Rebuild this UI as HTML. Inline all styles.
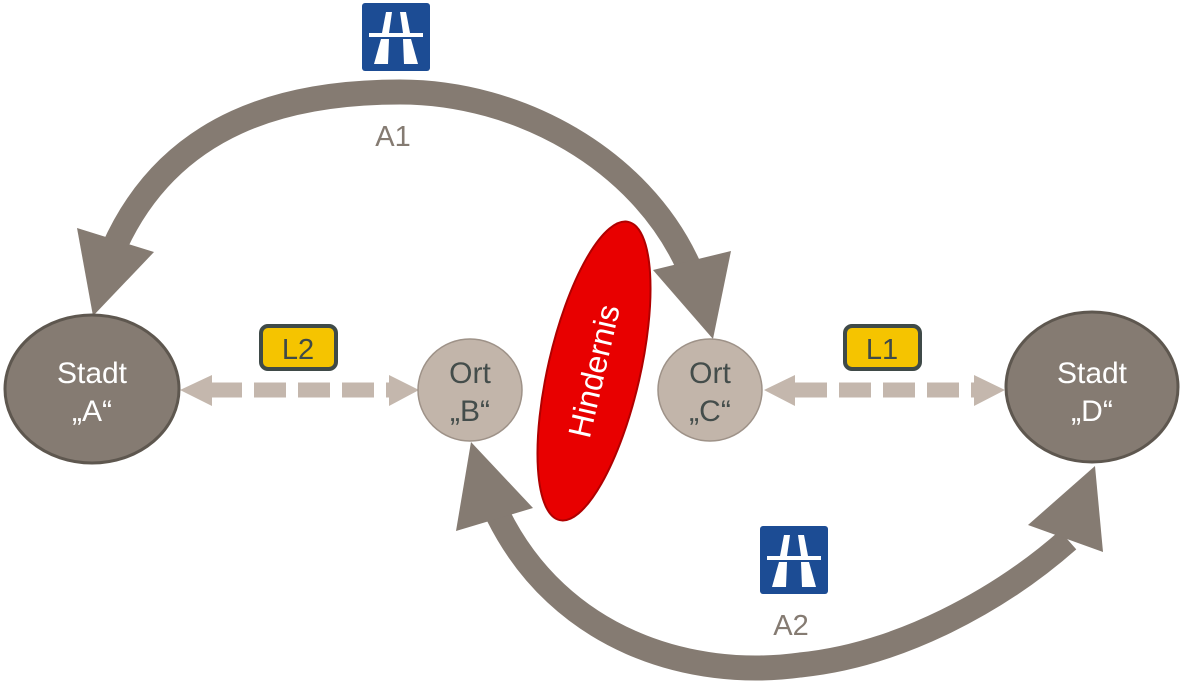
<!DOCTYPE html>
<html><head><meta charset="utf-8"><style>
html,body{margin:0;padding:0;background:#fff;}
svg{display:block;}
text{font-family:"Liberation Sans",Arial,sans-serif;}
</style></head><body>
<svg width="1180" height="683" viewBox="0 0 1180 683" xmlns="http://www.w3.org/2000/svg">
<!-- top arc A1 -->
<path d="M 113,250 C 170,120 290,92 400,92 C 520,92 640,160 688,265" fill="none" stroke="#857b72" stroke-width="25"/>
<polygon points="93,316 77,228 154,252" fill="#857b72"/>
<polygon points="713,339 653,270 731,251" fill="#857b72"/>
<!-- bottom arc A2 -->
<path d="M 498,515 C 560,640 690,680 800,665 C 900,655 1000,600 1068,540" fill="none" stroke="#857b72" stroke-width="25"/>
<polygon points="471,442 456,531 533,508" fill="#857b72"/>
<polygon points="1095,466 1028,525 1103,552" fill="#857b72"/>
<!-- dashed L2 -->
<line x1="210" y1="390" x2="390" y2="390" stroke="#c4b7ad" stroke-width="15" stroke-dasharray="32,12"/>
<polygon points="180,390 212,375 212,406" fill="#c4b7ad"/>
<polygon points="419,390 389,375 389,406" fill="#c4b7ad"/>
<!-- dashed L1 -->
<line x1="795" y1="390" x2="975" y2="390" stroke="#c4b7ad" stroke-width="15" stroke-dasharray="32,12"/>
<polygon points="764,390 795,375 795,406" fill="#c4b7ad"/>
<polygon points="1005,390 974,375 974,406" fill="#c4b7ad"/>
<!-- nodes -->
<ellipse cx="92" cy="389" rx="87" ry="74" fill="#857b72" stroke="#5e574f" stroke-width="3"/>
<text x="92" y="383" font-size="30" fill="#fff" text-anchor="middle">Stadt</text>
<text x="92" y="421" font-size="30" fill="#fff" text-anchor="middle">„A“</text>
<ellipse cx="1092" cy="387" rx="86" ry="75" fill="#857b72" stroke="#5e574f" stroke-width="3"/>
<text x="1092" y="383" font-size="30" fill="#fff" text-anchor="middle">Stadt</text>
<text x="1092" y="421" font-size="30" fill="#fff" text-anchor="middle">„D“</text>
<ellipse cx="470" cy="390" rx="52" ry="51" fill="#c2b5aa" stroke="#9e9288" stroke-width="1.5"/>
<text x="470" y="383" font-size="30" fill="#444d4b" text-anchor="middle">Ort</text>
<text x="470" y="421" font-size="30" fill="#444d4b" text-anchor="middle">„B“</text>
<ellipse cx="710" cy="390" rx="52" ry="51" fill="#c2b5aa" stroke="#9e9288" stroke-width="1.5"/>
<text x="710" y="383" font-size="30" fill="#444d4b" text-anchor="middle">Ort</text>
<text x="710" y="421" font-size="30" fill="#444d4b" text-anchor="middle">„C“</text>
<!-- Hindernis -->
<g transform="translate(594,371) rotate(-77)">
<ellipse cx="0" cy="0" rx="153" ry="46" fill="#e80000" stroke="#b00000" stroke-width="2"/>
<text x="0" y="11" font-size="32" fill="#fff" text-anchor="middle">Hindernis</text>
</g>
<!-- L boxes -->
<rect x="261" y="326" width="75" height="43" rx="7" fill="#f5c400" stroke="#3f4a48" stroke-width="4"/>
<text x="298" y="359" font-size="29" fill="#3f4a48" text-anchor="middle">L2</text>
<rect x="845" y="326" width="75" height="43" rx="7" fill="#f5c400" stroke="#3f4a48" stroke-width="4"/>
<text x="882" y="359" font-size="29" fill="#3f4a48" text-anchor="middle">L1</text>
<!-- motorway signs -->
<g id="sign" transform="translate(362,3)">
<rect x="0" y="0" width="68" height="68" rx="3" fill="#1c4c94"/>
<polygon points="24,9 30,9 27,30 20,30" fill="#fff"/>
<polygon points="38,9 44,9 48,30 41,30" fill="#fff"/>
<rect x="7" y="30" width="54" height="4" fill="#fff"/>
<polygon points="19,36 27,36 26,61 12,61" fill="#fff"/>
<polygon points="41,36 49,36 56,61 42,61" fill="#fff"/>
</g>
<use href="#sign" transform="translate(398,523)"/>
<text x="393" y="146" font-size="29" fill="#857b72" text-anchor="middle">A1</text>
<text x="791" y="635" font-size="29" fill="#857b72" text-anchor="middle">A2</text>
</svg>
</body></html>
